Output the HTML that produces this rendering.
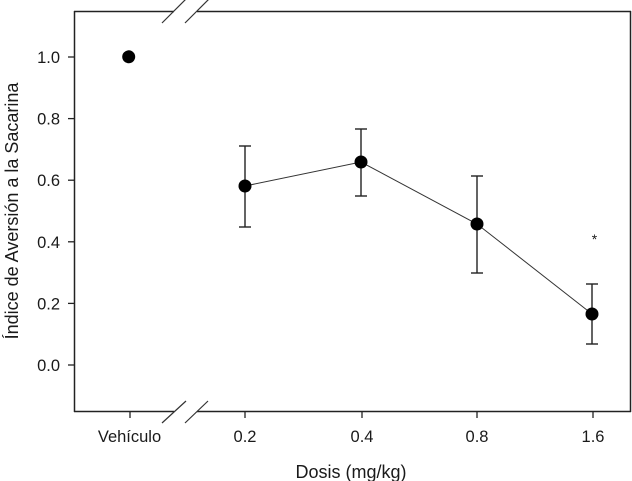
<!DOCTYPE html>
<html>
<head>
<meta charset="utf-8">
<style>
  html, body { margin: 0; padding: 0; background: #fff; }
  svg { display: block; }
  text { font-family: "Liberation Sans", Arial, sans-serif; fill: #1a1a1a; }
</style>
</head>
<body>
<svg width="632" height="481" viewBox="0 0 632 481" xmlns="http://www.w3.org/2000/svg">
  <!-- Frame -->
  <g stroke="#222" stroke-width="1.5" fill="none">
    <line x1="74.5" y1="11" x2="74.5" y2="412"/>
    <line x1="630.5" y1="11" x2="630.5" y2="412"/>
    <line x1="74" y1="11.5" x2="174" y2="11.5"/>
    <line x1="197" y1="11.5" x2="631" y2="11.5"/>
    <line x1="74" y1="411.5" x2="174" y2="411.5"/>
    <line x1="197" y1="411.5" x2="631" y2="411.5"/>
  </g>
  <!-- Break marks -->
  <g stroke="#333" stroke-width="1.2">
    <line x1="162" y1="23" x2="186" y2="-1"/>
    <line x1="185" y1="23" x2="209" y2="-1"/>
    <line x1="162" y1="423" x2="186" y2="401"/>
    <line x1="185" y1="423" x2="208" y2="401"/>
  </g>
  <!-- Y ticks -->
  <g stroke="#222" stroke-width="1.3">
    <line x1="68" y1="57" x2="74" y2="57"/>
    <line x1="68" y1="118.6" x2="74" y2="118.6"/>
    <line x1="68" y1="180.2" x2="74" y2="180.2"/>
    <line x1="68" y1="241.8" x2="74" y2="241.8"/>
    <line x1="68" y1="303.4" x2="74" y2="303.4"/>
    <line x1="68" y1="365" x2="74" y2="365"/>
  </g>
  <g font-size="16.5" text-anchor="end">
    <text x="60" y="63">1.0</text>
    <text x="60" y="124.6">0.8</text>
    <text x="60" y="186.2">0.6</text>
    <text x="60" y="247.8">0.4</text>
    <text x="60" y="309.4">0.2</text>
    <text x="60" y="371">0.0</text>
  </g>
  <!-- X ticks -->
  <g stroke="#222" stroke-width="1.3">
    <line x1="130" y1="412" x2="130" y2="418"/>
    <line x1="245" y1="412" x2="245" y2="418"/>
    <line x1="362" y1="412" x2="362" y2="418"/>
    <line x1="477" y1="412" x2="477" y2="418"/>
    <line x1="593" y1="412" x2="593" y2="418"/>
  </g>
  <g font-size="16.5" text-anchor="middle">
    <text x="129.5" y="442">Vehículo</text>
    <text x="245" y="442">0.2</text>
    <text x="362" y="442">0.4</text>
    <text x="477" y="442">0.8</text>
    <text x="593" y="442">1.6</text>
  </g>
  <!-- Axis titles -->
  <text x="351" y="478" font-size="18" text-anchor="middle">Dosis (mg/kg)</text>
  <text transform="translate(18,211) rotate(-90)" font-size="18" text-anchor="middle">Índice de Aversión a la Sacarina</text>
  <!-- Data line -->
  <polyline points="245,186 361,162 477,224 592,314" fill="none" stroke="#333" stroke-width="1"/>
  <!-- Error bars -->
  <g stroke="#222" stroke-width="1.4">
    <line x1="245" y1="146" x2="245" y2="227"/>
    <line x1="239" y1="146" x2="251" y2="146"/>
    <line x1="239" y1="227" x2="251" y2="227"/>
    <line x1="361" y1="129" x2="361" y2="196"/>
    <line x1="355" y1="129" x2="367" y2="129"/>
    <line x1="355" y1="196" x2="367" y2="196"/>
    <line x1="477" y1="176" x2="477" y2="273"/>
    <line x1="471" y1="176" x2="483" y2="176"/>
    <line x1="471" y1="273" x2="483" y2="273"/>
    <line x1="592" y1="284" x2="592" y2="344"/>
    <line x1="586" y1="284" x2="598" y2="284"/>
    <line x1="586" y1="344" x2="598" y2="344"/>
  </g>
  <!-- Markers -->
  <g fill="#000">
    <circle cx="128.7" cy="56.8" r="6.5"/>
    <circle cx="245" cy="186" r="6.5"/>
    <circle cx="361" cy="162" r="6.5"/>
    <circle cx="477" cy="224" r="6.5"/>
    <circle cx="592" cy="314" r="6.5"/>
  </g>
  <!-- Significance -->
  <text x="594.5" y="244" font-size="14" text-anchor="middle">*</text>
</svg>
</body>
</html>
